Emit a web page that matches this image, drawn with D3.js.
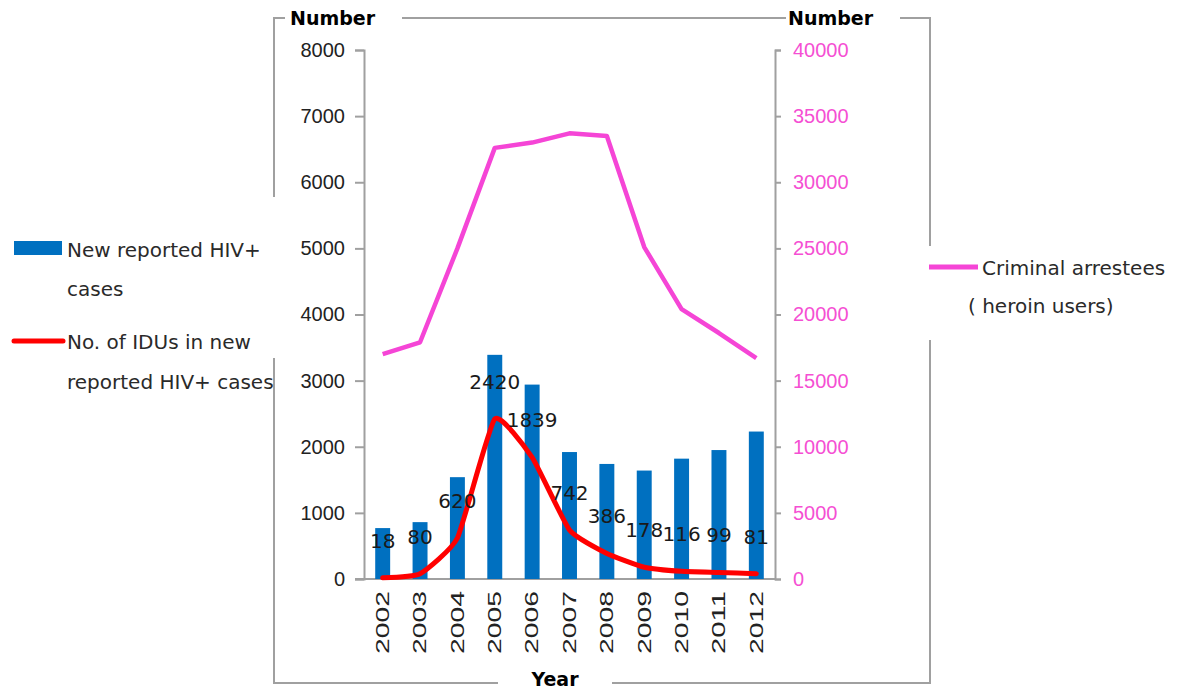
<!DOCTYPE html>
<html>
<head>
<meta charset="UTF-8">
<title>HIV cases and heroin arrestees</title>
<script src="https://cdn.jsdelivr.net/npm/d3@7/dist/d3.min.js"></script>
<style type="text/css">
body { margin: 0; background: #fff; }
svg { display: block; font-family: "DejaVu Sans", sans-serif; }
.frame { stroke: #a0a0a0; stroke-width: 2; fill: none; }
.axis path, .axis line { stroke: #a0a0a0; stroke-width: 2; }
.yleft text { font-size: 20px; fill: #222; }
.yright text { font-size: 20px; fill: #f54fd3; }
.xax text { font-size: 18px; fill: #222; }
.lbl { font-size: 20px; fill: #1a1a1a; text-anchor: middle; }
.leg { font-size: 20px; fill: #2a2a2a; }
.title { font-size: 19px; font-weight: bold; fill: #000; }
</style>
</head>
<body>
<div id="chart"></div>
<script>
var years    = ["2002", "2003", "2004", "2005", "2006", "2007", "2008", "2009", "2010", "2011", "2012"];
var hivCases = [770, 860, 1540, 3390, 2940, 1920, 1740, 1640, 1820, 1950, 2230];
var iduCases = [18, 80, 620, 2420, 1839, 742, 386, 178, 116, 99, 81];
var arrests  = [17000, 17900, 25000, 32600, 33000, 33700, 33500, 25100, 20400, 18600, 16700];
var leftTicks  = [0, 1000, 2000, 3000, 4000, 5000, 6000, 7000, 8000];
var rightTicks = [0, 5000, 10000, 15000, 20000, 25000, 30000, 35000, 40000];

var W = 1191, H = 690;
var x0 = 364, x1 = 775, yTop = 50, yBot = 579;

var svg = d3.select("#chart").append("svg")
    .attr("width", W)
    .attr("height", H);

// outer frame, broken around the titles and legends
var frame = [
    [[285, 18], [274, 18], [274, 197]],
    [[274, 358], [274, 683], [498, 683]],
    [[612, 683], [930, 683], [930, 340]],
    [[930, 246], [930, 18], [900, 18]],
    [[402, 18], [786, 18]]
];
svg.selectAll(".frame").data(frame).enter()
    .append("path")
    .attr("class", "frame")
    .attr("d", d3.line());

var x = d3.scaleBand().domain(years).range([x0, x1]).paddingInner(0.6).paddingOuter(0.3);
var xc = function (d) { return x(d) + x.bandwidth() / 2; };
var y  = d3.scaleLinear().domain([0, 8000]).range([yBot, yTop]);
var y2 = d3.scaleLinear().domain([0, 40000]).range([yBot, yTop]);

// axes
svg.append("g").attr("class", "axis yleft")
    .attr("transform", "translate(" + x0 + ",0)")
    .call(d3.axisLeft(y).tickValues(leftTicks).tickSize(9).tickSizeOuter(9).tickPadding(10).tickFormat(d3.format("d")));

svg.append("g").attr("class", "axis yright")
    .attr("transform", "translate(" + x1 + ",0)")
    .call(d3.axisRight(y2).tickValues(rightTicks).tickSize(6).tickSizeOuter(6).tickPadding(12).tickFormat(d3.format("d")));

var gx = svg.append("g").attr("class", "axis xax")
    .attr("transform", "translate(0," + yBot + ")")
    .call(d3.axisBottom(x).tickSize(0).tickSizeOuter(0));
gx.select(".domain").attr("d", "M" + (x0 - 9) + ",0H" + x1);
gx.selectAll("text")
    .attr("transform", "rotate(-90)")
    .attr("x", -12)
    .attr("y", 0)
    .attr("dy", "0.35em")
    .attr("text-anchor", "end")
    .attr("textLength", 63)
    .attr("lengthAdjust", "spacingAndGlyphs");

// bars
svg.selectAll(".bar").data(hivCases).enter()
    .append("rect")
    .attr("class", "bar")
    .attr("x", function (d, i) { return x(years[i]); })
    .attr("width", x.bandwidth())
    .attr("y", function (d) { return y(d); })
    .attr("height", function (d) { return yBot - y(d); })
    .attr("fill", "#0070c0");

// arrestees line (right axis)
var arrLine = d3.line()
    .x(function (d, i) { return xc(years[i]); })
    .y(function (d) { return y2(d); });
svg.append("path")
    .datum(arrests)
    .attr("d", arrLine)
    .attr("fill", "none")
    .attr("stroke", "#f545d6")
    .attr("stroke-width", 4.5)
    .attr("stroke-linejoin", "round");

// IDU line
var iduLine = d3.line()
    .curve(d3.curveCardinal.tension(0.55))
    .x(function (d, i) { return xc(years[i]); })
    .y(function (d) { return y(d); });
svg.append("path")
    .datum(iduCases)
    .attr("d", iduLine)
    .attr("fill", "none")
    .attr("stroke", "#ff0000")
    .attr("stroke-width", 5)
    .attr("stroke-linecap", "round")
    .attr("stroke-linejoin", "round");

svg.selectAll(".lbl").data(iduCases).enter()
    .append("text")
    .attr("class", "lbl")
    .attr("x", function (d, i) { return xc(years[i]); })
    .attr("y", function (d) { return y(d) - 37; })
    .attr("dy", "0.35em")
    .text(function (d) { return d; });

// titles
svg.append("text").attr("class", "title").attr("x", 290).attr("y", 25).text("Number");
svg.append("text").attr("class", "title").attr("x", 788).attr("y", 25).text("Number");
svg.append("text").attr("class", "title").attr("x", 555).attr("y", 686).attr("text-anchor", "middle").text("Year");

// legends
svg.append("rect").attr("x", 14).attr("y", 241).attr("width", 48).attr("height", 14).attr("fill", "#0070c0");
svg.append("text").attr("class", "leg").attr("x", 67).attr("y", 257).text("New reported HIV+");
svg.append("text").attr("class", "leg").attr("x", 67).attr("y", 296).text("cases");

svg.append("line").attr("x1", 14).attr("x2", 63).attr("y1", 341).attr("y2", 341)
    .attr("stroke", "#ff0000").attr("stroke-width", 5).attr("stroke-linecap", "round");
svg.append("text").attr("class", "leg").attr("x", 67).attr("y", 349).text("No. of IDUs in new");
svg.append("text").attr("class", "leg").attr("x", 67).attr("y", 389).text("reported HIV+ cases");

svg.append("line").attr("x1", 929).attr("x2", 978).attr("y1", 267).attr("y2", 267)
    .attr("stroke", "#f545d6").attr("stroke-width", 5);
svg.append("text").attr("class", "leg").attr("x", 982).attr("y", 275).text("Criminal arrestees");
svg.append("text").attr("class", "leg").attr("x", 968).attr("y", 313).text("( heroin users)");
</script>
</body>
</html>
